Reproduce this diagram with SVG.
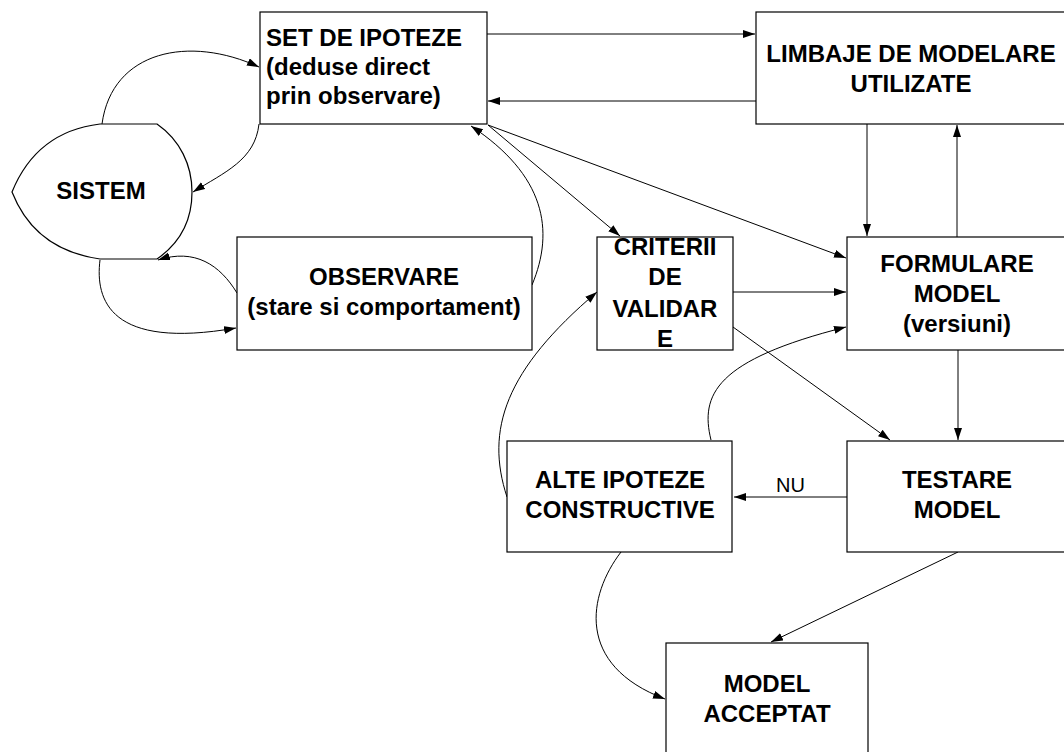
<svg xmlns="http://www.w3.org/2000/svg" width="1064" height="752" viewBox="0 0 1064 752">
<style>
.box{fill:#fff;stroke:#000;stroke-width:1.2}
.t{font-family:"Liberation Sans",Arial,sans-serif;font-weight:bold;font-size:24px;fill:#000}
.c{text-anchor:middle}
.e{fill:none;stroke:#000;stroke-width:1;marker-end:url(#ah)}
.lbl{font-family:"Liberation Sans",Arial,sans-serif;font-size:20px;fill:#000}
</style>
<defs>
<marker id="ah" markerUnits="userSpaceOnUse" markerWidth="13" markerHeight="9" refX="12" refY="4" orient="auto">
<path d="M0,0 L12,4 L0,8 z" fill="#000"/>
</marker>
</defs>
<rect width="1064" height="752" fill="#fff"/>
<g id="connectors">
<path class="e" d="M487,34 L755,34"/>
<path class="e" d="M756,101 L488,101"/>
<path class="e" d="M867,124 L867,236"/>
<path class="e" d="M957,237 L957,125"/>
<path class="e" d="M488,125 L846,258"/>
<path class="e" d="M488,125 L620,236"/>
<path class="e" d="M532,285 C555,230 545,175 471,126"/>
<path class="e" d="M102,124 C112,50 190,35 259,67"/>
<path class="e" d="M259,124 C255,160 225,172 193,192"/>
<path class="e" d="M237,293 C220,265 195,248 158,260"/>
<path class="e" d="M100,260 C95,300 110,350 236,328"/>
<path class="e" d="M733,292 L846,292"/>
<path class="e" d="M733,327 L890,440"/>
<path class="e" d="M711,440 C700,395 715,360 846,327"/>
<path class="e" d="M507,497 C485,430 505,370 597,292"/>
<path class="e" d="M958,350 L958,440"/>
<path class="e" d="M847,497 L734,497"/>
<path class="e" d="M958,552 L771,642"/>
<path class="e" d="M621,552 C588,595 575,665 665,699"/>
<text class="lbl" x="776" y="492">NU</text>
</g>
<g id="sistem">
<path class="box" d="M100,124 L157,124 C180,140 192,165 192,192 C192,220 180,243 157,259 L100,259 C50,252 25,225 12,192 C25,160 50,130 100,124 Z"/>
<text class="t c" x="101" y="199">SISTEM</text>
</g>
<g id="set-ipoteze">
<rect class="box" x="260" y="12" width="227" height="112"/>
<text class="t" x="266" y="46">SET DE IPOTEZE</text>
<text class="t" x="266" y="75">(deduse direct</text>
<text class="t" x="266" y="104">prin observare)</text>
</g>
<g id="limbaje">
<rect class="box" x="756" y="12" width="311" height="112"/>
<text class="t c" x="911" y="62">LIMBAJE DE MODELARE</text>
<text class="t c" x="911" y="92">UTILIZATE</text>
</g>
<g id="observare">
<rect class="box" x="237" y="237" width="295" height="113"/>
<text class="t c" x="384" y="285">OBSERVARE</text>
<text class="t c" x="384" y="315">(stare si comportament)</text>
</g>
<g id="criterii">
<rect class="box" x="597" y="237" width="136" height="113"/>
<text class="t c" x="665" y="255">CRITERII</text>
<text class="t c" x="665" y="285">DE</text>
<text class="t c" x="665" y="317">VALIDAR</text>
<text class="t c" x="665" y="347">E</text>
</g>
<g id="formulare">
<rect class="box" x="847" y="237" width="221" height="113"/>
<text class="t c" x="957" y="272">FORMULARE</text>
<text class="t c" x="957" y="302">MODEL</text>
<text class="t c" x="957" y="332">(versiuni)</text>
</g>
<g id="alte-ipoteze">
<rect class="box" x="507" y="441" width="225" height="111"/>
<text class="t c" x="620" y="488">ALTE IPOTEZE</text>
<text class="t c" x="620" y="518">CONSTRUCTIVE</text>
</g>
<g id="testare">
<rect class="box" x="847" y="441" width="221" height="111"/>
<text class="t c" x="957" y="488">TESTARE</text>
<text class="t c" x="957" y="518">MODEL</text>
</g>
<g id="model-acceptat">
<rect class="box" x="666" y="643" width="202" height="120"/>
<text class="t c" x="767" y="692">MODEL</text>
<text class="t c" x="767" y="722">ACCEPTAT</text>
</g>
</svg>
